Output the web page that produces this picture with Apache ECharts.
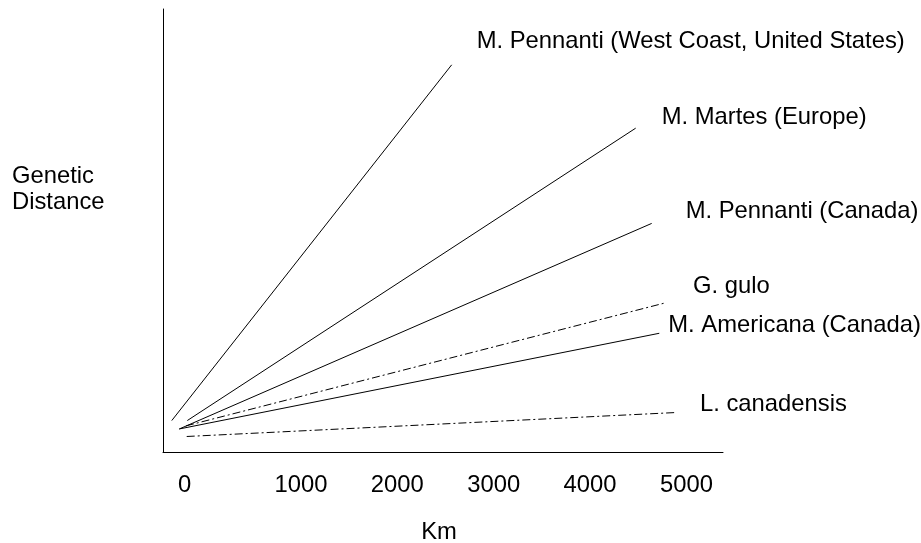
<!DOCTYPE html>
<html lang="en">
<head>
    <meta charset="utf-8" />
    <title>Genetic distance vs Km</title>
    <script src="https://cdn.jsdelivr.net/npm/echarts@6/dist/echarts.min.js"></script>
    <style>
        html, body { margin: 0; padding: 0; background: #fff; }
        #chart { width: 921px; height: 543px; }
    </style>
</head>
<body>
    <div id="chart"></div>
    <script type="text/javascript">
        // populations, one straight line each
        var names = [
            'M. Pennanti (West Coast, United States)',
            'M. Martes (Europe)',
            'M. Pennanti (Canada)',
            'G. gulo',
            'M. Americana (Canada)',
            'L. canadensis'
        ];
        // line start / end, km and (unitless) genetic distance
        var startKm = [-65, 96, 13, 83, 13, 90];
        var startDist = [0.071, 0.071, 0.052, 0.059, 0.052, 0.035];
        var endKm = [2839, 4748, 4914, 5062, 4993, 5156];
        var endDist = [0.874, 0.731, 0.516, 0.337, 0.268, 0.089];
        var kmTicks = [0, 1000, 2000, 3000, 4000, 5000];

        // per line look
        var dashed = [false, false, false, true, false, true];
        var labelOffsets = [[25, -23], [26, -11], [34, -12], [27, -16], [9, -8], [25, -8]];

        var font = 'Liberation Sans, Arial, sans-serif';
        var fontSize = 23.8;

        var series = names.map(function (name, i) {
            return {
                name: name,
                type: 'line',
                symbol: 'none',
                silent: true,
                animation: false,
                lineStyle: {
                    color: '#000',
                    width: 1,
                    type: dashed[i] ? [8, 3, 2, 3] : 'solid'
                },
                endLabel: {
                    show: true,
                    formatter: name,
                    distance: 0,
                    offset: labelOffsets[i],
                    color: '#000',
                    fontFamily: font,
                    fontSize: fontSize
                },
                data: [[startKm[i], startDist[i]], [endKm[i], endDist[i]]]
            };
        });

        var chart = echarts.init(document.getElementById('chart'));
        chart.setOption({
            animation: false,
            backgroundColor: '#fff',
            title: {
                text: 'Genetic\nDistance',
                left: 12,
                top: 163,
                padding: 0,
                textStyle: {
                    color: '#000',
                    fontWeight: 'normal',
                    fontFamily: font,
                    fontSize: fontSize,
                    lineHeight: 26.6
                }
            },
            grid: {
                left: 163,
                right: 198,
                top: 9,
                bottom: 91,
                containLabel: false,
                outerBoundsMode: 'none'
            },
            xAxis: {
                type: 'value',
                min: -156,
                max: 5654,
                name: 'Km',
                nameLocation: 'middle',
                nameGap: 68,
                nameTextStyle: {
                    color: '#000',
                    fontFamily: font,
                    fontSize: fontSize,
                    padding: [0, 8, 0, 0]
                },
                axisLine: { show: true, onZero: false, lineStyle: { color: '#000', width: 1 } },
                axisTick: { show: false },
                splitLine: { show: false },
                axisLabel: {
                    customValues: kmTicks,
                    formatter: function (v) { return String(v); },
                    align: 'left',
                    margin: 21,
                    color: '#000',
                    fontFamily: font,
                    fontSize: fontSize
                }
            },
            yAxis: {
                type: 'value',
                min: 0,
                max: 1,
                axisLine: { show: true, onZero: false, lineStyle: { color: '#000', width: 1 } },
                axisTick: { show: false },
                axisLabel: { show: false },
                splitLine: { show: false }
            },
            series: series
        });
    </script>
</body>
</html>
